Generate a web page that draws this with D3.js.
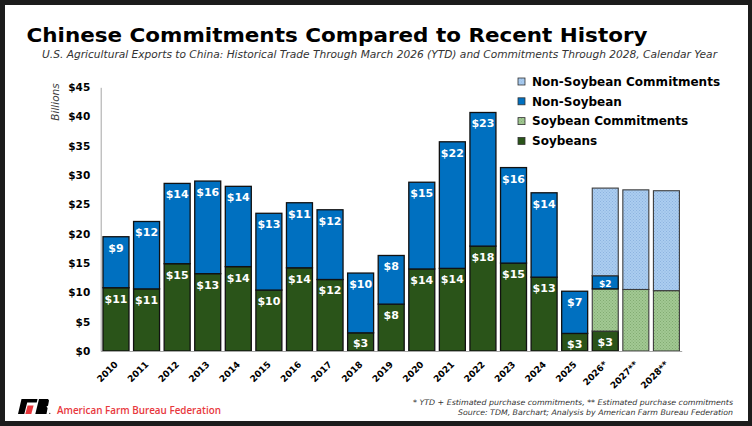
<!DOCTYPE html>
<html><head><meta charset="utf-8">
<script src="https://cdn.jsdelivr.net/npm/d3@7"></script>
<style>
html,body{margin:0;padding:0;background:#1c1c1c;}
svg{display:block;}
</style></head>
<body>
<svg id="chart" width="752" height="426"></svg>
<script>
const years = ["2010","2011","2012","2013","2014","2015","2016","2017","2018","2019","2020","2021","2022","2023","2024","2025","2026*","2027**","2028**"];
const soybeans      = [10.8,10.6,14.9,13.2,14.4,10.4,14.2,12.2,3.1,8.0,14.0,14.1,17.9,15.0,12.6,3.0,3.4,0,0];
const soyCommit     = [0,0,0,0,0,0,0,0,0,0,0,0,0,0,0,0,7.2,10.5,10.3];
const nonSoybean    = [8.7,11.5,13.7,15.8,13.7,13.1,11.1,11.9,10.2,8.3,14.8,21.6,22.8,16.3,14.4,7.2,2.25,0,0];
const nonSoyCommit  = [0,0,0,0,0,0,0,0,0,0,0,0,0,0,0,0,14.95,17.0,17.05];
const yTicks = [0,5,10,15,20,25,30,35,40,45];
const legendLabels = ["Non-Soybean Commitments","Non-Soybean","Soybean Commitments","Soybeans"];

const svg = d3.select("#chart");
const defs = svg.append("defs");
function dotPattern(id, bg, dot){
  const p = defs.append("pattern").attr("id",id).attr("patternUnits","userSpaceOnUse").attr("width",3).attr("height",3);
  p.append("rect").attr("width",3).attr("height",3).attr("fill",bg);
  p.append("rect").attr("x",0).attr("y",0).attr("width",1).attr("height",1).attr("fill",dot);
  p.append("rect").attr("x",1.5).attr("y",1.5).attr("width",1).attr("height",1).attr("fill",dot);
}
dotPattern("pBlue","#abcdf0","#8db3df");
dotPattern("pGreen","#a2c993","#82ab72");

// panel
svg.append("rect").attr("x",5).attr("y",5).attr("width",743).attr("height",416).attr("fill","#fff");

const keys = ["soy","soyC","non","nonC"];
const fills = {soy:"#2a5419", soyC:"url(#pGreen)", non:"#0070c0", nonC:"url(#pBlue)"};
const data = years.map((y,i)=>({year:y, soy:soybeans[i], soyC:soyCommit[i], non:nonSoybean[i], nonC:nonSoyCommit[i]}));
const stack = d3.stack().keys(keys)(data);

const x = d3.scaleBand().domain(years).range([100.7,681.7]).paddingInner(0.15).paddingOuter(0.075);
const y = d3.scaleLinear().domain([0,45]).range([351,87.3]);

// title
svg.append("text").attr("x",26.5).attr("y",42.3).attr("font-family","DejaVu Sans").attr("font-weight","bold")
  .attr("font-size",20).attr("fill","#000").attr("textLength",621).attr("lengthAdjust","spacingAndGlyphs")
  .text("Chinese Commitments Compared to Recent History");
svg.append("text").attr("x",42).attr("y",57.7).attr("font-family","DejaVu Sans").attr("font-style","italic")
  .attr("font-size",9.6).attr("fill","#333").attr("textLength",675).attr("lengthAdjust","spacingAndGlyphs")
  .text("U.S. Agricultural Exports to China: Historical Trade Through March 2026 (YTD) and Commitments Through 2028, Calendar Year");

// y axis
const yAxis = svg.append("g").attr("transform","translate(100.7,0)")
  .call(d3.axisLeft(y).tickValues(yTicks).tickFormat(d=>"$"+d).tickSize(0).tickPadding(10.5));
yAxis.select(".domain").attr("stroke","#a6a6a6").attr("stroke-width",1);
yAxis.selectAll("text").attr("font-family","DejaVu Sans").attr("font-weight","bold").attr("font-size",10.5).attr("fill","#000");

svg.append("text").attr("transform","translate(59,102) rotate(-90)").attr("text-anchor","middle")
  .attr("font-family","DejaVu Sans").attr("font-style","italic").attr("font-size",10.5).attr("fill","#404040").text("Billions");

// bars
const layers = svg.append("g").selectAll("g").data(stack).join("g");
layers.each(function(layer){
  const k = layer.key;
  const isC = k==="soyC"||k==="nonC";
  d3.select(this).selectAll("rect").data(layer.filter(d=>d[1]-d[0]>0)).join("rect")
    .attr("x",d=>x(d.data.year)).attr("width",x.bandwidth())
    .attr("y",d=>y(d[1])).attr("height",d=>y(d[0])-y(d[1]))
    .attr("fill",fills[k]).attr("stroke",isC?"#3c3c3c":"#111").attr("stroke-width",isC?1.1:1.3);
});
// labels
["soy","non"].forEach(k=>{
  const layer = stack.find(s=>s.key===k);
  svg.append("g").selectAll("text").data(layer.filter(d=>d[1]-d[0]>0)).join("text")
    .attr("x",d=>x(d.data.year)+x.bandwidth()/2)
    .attr("y",d=>{const h=y(d[0])-y(d[1]); return y(d[1])+Math.min(11,h/2+1.5);})
    .attr("dy","0.36em").attr("text-anchor","middle")
    .attr("font-family","DejaVu Sans").attr("font-weight","bold")
    .attr("font-size",d=>(y(d[0])-y(d[1]))<15?9:11).attr("fill","#fff")
    .text(d=>"$"+Math.round(d[1]-d[0]));
});

// x axis
const xAxis = svg.append("g").attr("transform","translate(0,351)")
  .call(d3.axisBottom(x).tickSize(0).tickSizeOuter(0));
xAxis.select(".domain").attr("stroke","#a6a6a6").attr("stroke-width",1);
xAxis.selectAll("text").attr("y",0).attr("dy",0).attr("x",0)
  .attr("transform","translate(2.5,14) rotate(-45)").attr("text-anchor","end")
  .attr("font-family","DejaVu Sans").attr("font-weight","bold").attr("font-size",9).attr("fill","#000");

// legend
const legFills = ["url(#pBlue)","#0070c0","url(#pGreen)","#2a5419"];
const leg = svg.append("g").selectAll("g").data(legendLabels).join("g")
  .attr("transform",(d,i)=>`translate(518,${81.5+i*19.8})`);
leg.append("rect").attr("x",0).attr("y",-3.5).attr("width",7).attr("height",7)
  .attr("fill",(d,i)=>legFills[i]).attr("stroke","#333").attr("stroke-width",0.8);
leg.append("text").attr("x",14).attr("dy","0.36em").attr("font-family","DejaVu Sans").attr("font-weight","bold")
  .attr("font-size",12).attr("fill","#000").text(d=>d);

// footer logo
const logo = svg.append("g");
logo.append("polygon").attr("points","21.5,399 37.5,399 36.7,402.6 27.2,402.6 24.3,414 18,414").attr("fill","#000");
logo.append("polygon").attr("points","27.6,405.5 33.6,405.5 31.3,414 25.3,414").attr("fill","#e8383d");
logo.append("polygon").attr("points","39,399 48,399 49,400.5 48,405.8 46.4,406.6 47.6,408 46.5,414 35.3,414").attr("fill","#000");
logo.append("circle").attr("cx",49.8).attr("cy",413.3).attr("r",0.6).attr("fill","#000");
svg.append("text").attr("x",57).attr("y",413.5).attr("font-family","Open Sans").attr("font-weight",600).attr("font-size",10.5)
  .attr("fill","#e8383d").attr("textLength",164).attr("lengthAdjust","spacingAndGlyphs").text("American Farm Bureau Federation");

// footnotes
svg.append("text").attr("x",733).attr("y",405).attr("text-anchor","end").attr("font-family","DejaVu Sans")
  .attr("font-style","italic").attr("font-size",7.6).attr("fill","#333").attr("textLength",320).attr("lengthAdjust","spacingAndGlyphs")
  .text("* YTD + Estimated purchase commitments, ** Estimated purchase commitments");
svg.append("text").attr("x",733).attr("y",415).attr("text-anchor","end").attr("font-family","DejaVu Sans")
  .attr("font-style","italic").attr("font-size",7.6).attr("fill","#333").attr("textLength",275).attr("lengthAdjust","spacingAndGlyphs")
  .text("Source: TDM, Barchart; Analysis by American Farm Bureau Federation");
</script>
</body></html>
